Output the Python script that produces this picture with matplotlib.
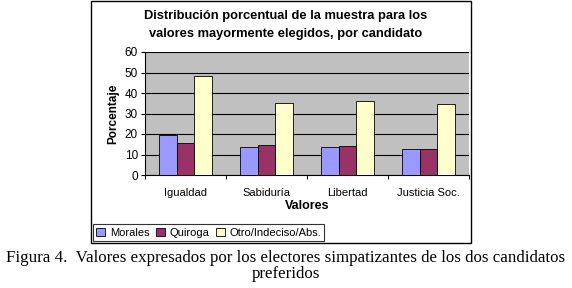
import numpy as np
import matplotlib
matplotlib.use('Agg')
import matplotlib.pyplot as plt
from matplotlib.patches import Rectangle

categorias = ['Igualdad', 'Sabiduría', 'Libertad', 'Justicia Soc.']
morales = [19.5, 13.5, 13.5, 12.5]
quiroga = [15.5, 14.5, 14, 12.5]
otro = [48.5, 35, 36, 34.5]
series = ['Morales', 'Quiroga', 'Otro/Indeciso/Abs.']
colores = ['#9999FF', '#993366', '#FFFFCC']

plt.rcParams['font.family'] = ['Liberation Sans', 'DejaVu Sans']

fig = plt.figure(figsize=(5.72, 2.88), dpi=100, facecolor='white')

# chart frame (like an embedded Excel chart)
fig.patches.append(Rectangle((91/572, 1-243/288), 380/572, 243/288 - 0.002,
                             transform=fig.transFigure, fill=False,
                             edgecolor='black', lw=1.0))

ax = fig.add_axes([145/572, 1-175/288, 324/572, 123/288])
ax.set_facecolor('#C0C0C0')

x = np.arange(len(categorias)) + 0.5
w = 0.22
for k, (vals, nombre, c) in enumerate(zip([morales, quiroga, otro], series, colores)):
    ax.bar(x + (k-1)*w, vals, w, color=c, edgecolor='black', lw=0.6,
           label=nombre, zorder=3)

ax.set_xlim(0, len(categorias))
ax.set_ylim(0, 60)
ax.set_yticks(range(0, 61, 10))
ax.yaxis.grid(True, color='black', lw=0.8, zorder=1)
ax.set_xticks(np.arange(len(categorias)+1))
ax.set_xticklabels([])
ax.set_xticks(x, minor=True)
ax.set_xticklabels(categorias, minor=True)
ax.tick_params(axis='x', which='minor', length=0, labelsize=8, pad=9)
ax.tick_params(axis='x', which='major', length=3, width=0.8)
ax.tick_params(axis='y', labelsize=8.5, length=3, width=0.8, pad=2)
for s in ['top', 'right']:
    ax.spines[s].set_visible(False)
for s in ['left', 'bottom']:
    ax.spines[s].set_linewidth(0.8)

ax.set_xlabel('Valores', fontsize=9, fontweight='bold', labelpad=1.5)
ax.set_ylabel('Porcentaje', fontsize=8.5, fontweight='bold', labelpad=4)

fig.text(286/572, 1-25/288,
         'Distribución porcentual de la muestra para los\nvalores mayormente elegidos, por candidato',
         ha='center', va='center', fontsize=9.3, fontweight='bold', linespacing=1.6)

leg = fig.legend(loc='lower left', bbox_to_anchor=(93/572, 1-241/288), ncol=3,
                 fontsize=8, frameon=True, fancybox=False, edgecolor='black',
                 handlelength=0.8, handleheight=0.8, handletextpad=0.4,
                 columnspacing=0.6, borderpad=0.3, borderaxespad=0)
leg.get_frame().set_linewidth(0.8)

fig.text(0.5, 1-266/288,
         'Figura 4.  Valores expresados por los electores simpatizantes de los dos candidatos\npreferidos',
         ha='center', va='center', fontsize=12.2, family='Liberation Serif', linespacing=0.95)

fig.savefig('out.png', dpi=100)
